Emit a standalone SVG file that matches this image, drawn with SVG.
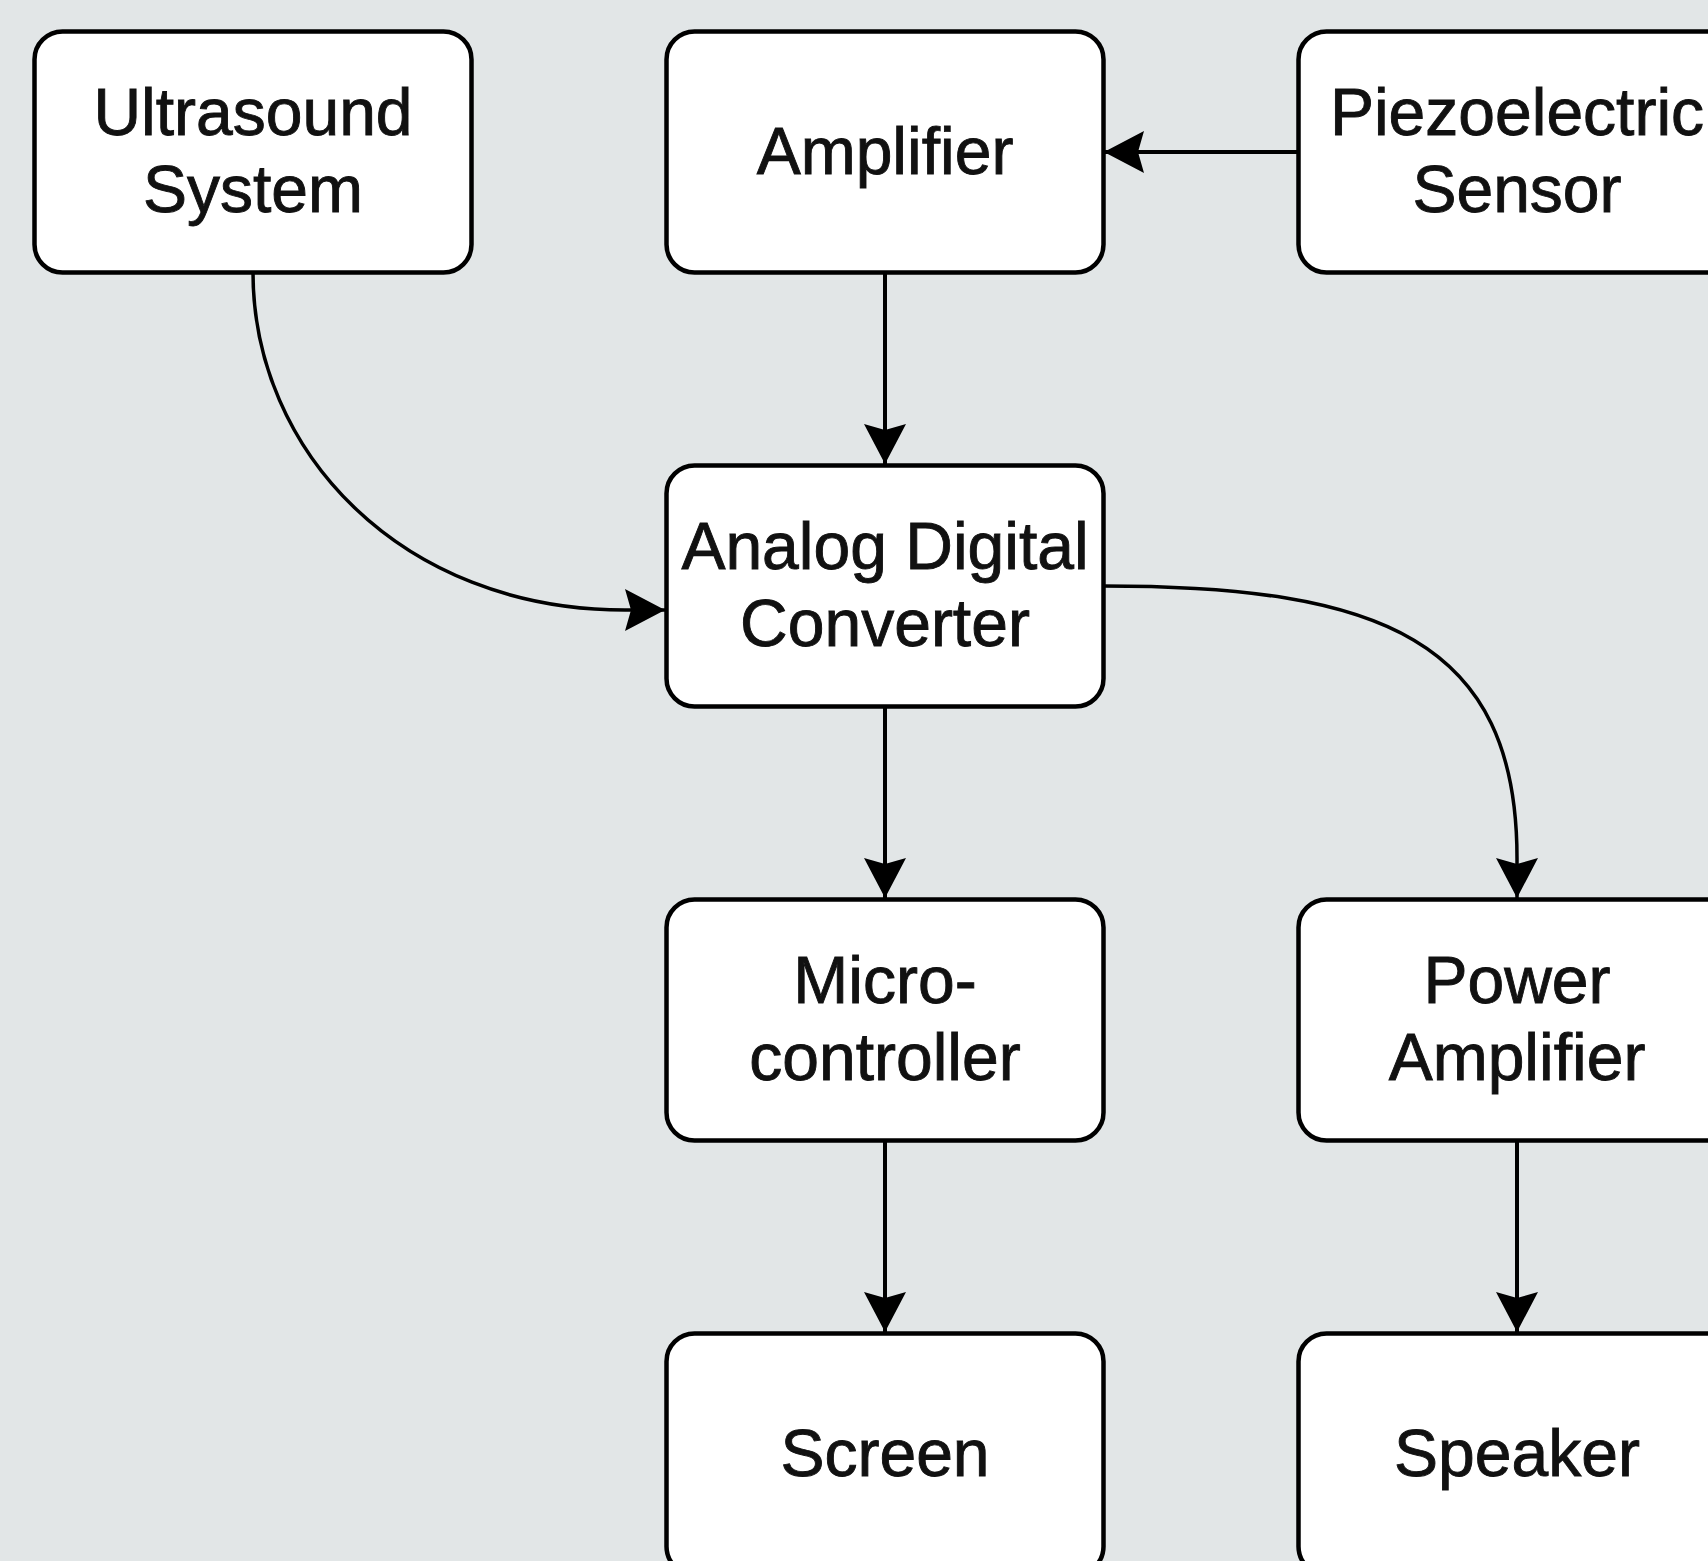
<svg xmlns="http://www.w3.org/2000/svg" width="1708" height="1561" viewBox="0 0 1708 1561">
<style>
.box{fill:#ffffff;stroke:#000000;stroke-width:4.5}
.lbl{font-family:"Liberation Sans",Arial,sans-serif;font-size:66px;fill:#111111;stroke:#111111;stroke-width:0.9;text-anchor:middle}
.edge{fill:none;stroke:#000000;stroke-width:4}
.curve{fill:none;stroke:#000000;stroke-width:3.5}
</style>
<defs>
<marker id="arrow" markerUnits="userSpaceOnUse" viewBox="-42 -23 44 46" markerWidth="44" markerHeight="46" refX="0" refY="0" orient="auto">
<path d="M0,0 L-40,-21 L-34,0 L-40,21 Z" fill="#000000"/>
</marker>
</defs>
<rect x="0" y="0" width="1708" height="1561" fill="#e2e6e7"/>
<g id="connectors">
<path class="edge" d="M1298.5,152 L1104,152" marker-end="url(#arrow)"/>
<path class="edge" d="M885,272.5 L885,464" marker-end="url(#arrow)"/>
<path class="edge" d="M885,706.5 L885,898" marker-end="url(#arrow)"/>
<path class="edge" d="M885,1140.5 L885,1332" marker-end="url(#arrow)"/>
<path class="edge" d="M1517,1140.5 L1517,1332" marker-end="url(#arrow)"/>
<path class="curve" d="M253,272.5 C253,450 400,610 625,610 L665,610" marker-end="url(#arrow)"/>
<path class="curve" d="M1103.5,586 C1380,586 1517,640 1517,858 L1517,898" marker-end="url(#arrow)"/>
</g>
<g id="node-ultrasound">
<rect class="box" x="34.5" y="31.5" width="437" height="241" rx="28" ry="28"/>
<text class="lbl" x="253" y="134.5">Ultrasound</text>
<text class="lbl" x="253" y="211.5">System</text>
</g>
<g id="node-amplifier">
<rect class="box" x="666.5" y="31.5" width="437" height="241" rx="28" ry="28"/>
<text class="lbl" x="885" y="173.5">Amplifier</text>
</g>
<g id="node-piezo">
<rect class="box" x="1298.5" y="31.5" width="437" height="241" rx="28" ry="28"/>
<text class="lbl" x="1517" y="134.5">Piezoelectric</text>
<text class="lbl" x="1517" y="211.5">Sensor</text>
</g>
<g id="node-adc">
<rect class="box" x="666.5" y="465.5" width="437" height="241" rx="28" ry="28"/>
<text class="lbl" x="885" y="569">Analog Digital</text>
<text class="lbl" x="885" y="646">Converter</text>
</g>
<g id="node-micro">
<rect class="box" x="666.5" y="899.5" width="437" height="241" rx="28" ry="28"/>
<text class="lbl" x="885" y="1003">Micro-</text>
<text class="lbl" x="885" y="1080">controller</text>
</g>
<g id="node-poweramp">
<rect class="box" x="1298.5" y="899.5" width="437" height="241" rx="28" ry="28"/>
<text class="lbl" x="1517" y="1003">Power</text>
<text class="lbl" x="1517" y="1080">Amplifier</text>
</g>
<g id="node-screen">
<rect class="box" x="666.5" y="1333.5" width="437" height="241" rx="28" ry="28"/>
<text class="lbl" x="885" y="1476">Screen</text>
</g>
<g id="node-speaker">
<rect class="box" x="1298.5" y="1333.5" width="437" height="241" rx="28" ry="28"/>
<text class="lbl" x="1517" y="1476">Speaker</text>
</g>
</svg>
